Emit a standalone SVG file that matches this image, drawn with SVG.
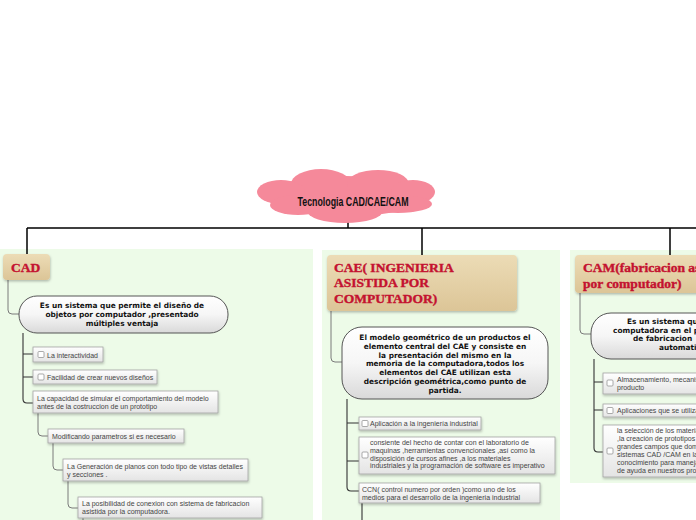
<svg xmlns="http://www.w3.org/2000/svg" width="696" height="520" viewBox="0 0 696 520">
<defs>
<linearGradient id="gHead" x1="0" y1="0" x2="0" y2="1"><stop offset="0" stop-color="#ecdcb6"/><stop offset="1" stop-color="#dcc597"/></linearGradient>
<linearGradient id="gBub" x1="0" y1="0" x2="0" y2="1"><stop offset="0" stop-color="#ffffff"/><stop offset="0.5" stop-color="#f6f6f6"/><stop offset="1" stop-color="#d9d9d9"/></linearGradient>
<linearGradient id="gItem" x1="0" y1="0" x2="0" y2="1"><stop offset="0" stop-color="#ffffff"/><stop offset="1" stop-color="#e4e4e4"/></linearGradient>
<filter id="sh" x="-10%" y="-20%" width="130%" height="150%"><feDropShadow dx="0.5" dy="1.5" stdDeviation="1" flood-color="#000" flood-opacity="0.25"/></filter>
</defs>
<style>
.panel{fill:#edfbe8}
.head{fill:url(#gHead);filter:url(#sh)}
.htxt{font-family:"Liberation Serif",serif;font-weight:bold;font-size:13.5px;fill:#c41230;stroke:#c41230;stroke-width:0.4}
.bub{fill:url(#gBub);stroke:#555;stroke-width:1}
.btxt{font-family:"DejaVu Sans",sans-serif;font-weight:bold;font-size:7.4px;fill:#111;text-anchor:middle}
.btxs{font-family:"DejaVu Sans",sans-serif;font-weight:bold;font-size:7.4px;fill:#111}
.item{fill:url(#gItem);stroke:#a3a3a3;stroke-width:0.8;filter:url(#sh)}
.itxt{font-family:"Liberation Sans",sans-serif;font-size:7px;fill:#444}
.cb{fill:#fff;stroke:#888;stroke-width:0.7}
.main{fill:none;stroke:#000;stroke-width:1.5}
.dark{fill:none;stroke:#333;stroke-width:1.1}
.gray{fill:none;stroke:#7a7a7a;stroke-width:1}
</style>
<rect width="696" height="520" fill="#fff"/>
<rect class="panel" x="0" y="249" width="313" height="271"/>
<rect class="panel" x="322" y="250" width="238" height="270"/>
<rect class="panel" x="570" y="250" width="126" height="233"/>

<g id="connectors">
<path class="main" d="M348,222 V228 M27,228 H696 M27,228 V254 M422,228 V255 M670,228 V255"/>
<path class="gray" d="M8,280 V310 Q8,314 12,314 H19"/>
<path class="dark" d="M23,333 V399 Q23,403 27,403 H33 M23,354 H33 M23,377 H33"/>
<path class="gray" d="M38,413 V432 Q38,436 42,436 H48 M53,443 V466 Q53,470 57,470 H63 M68,481 V504 Q68,508 72,508 H78 M83,518 V520"/>
<path class="gray" d="M331,311 V358 Q331,362 335,362 H342"/>
<path class="dark" d="M347,399 V487 Q347,491 351,491 H359 M347,423 H359 M347,461 H359 M362,503 V520"/>
<path class="gray" d="M580,293 V330 Q580,334 584,334 H591"/>
<path class="dark" d="M594,359 V448 Q594,452 598,452 H603 M594,382 H603 M594,410 H603"/>
</g>

<g id="root">
<g fill="#f5899a">
<ellipse cx="346" cy="196" rx="80" ry="20"/>
<ellipse cx="321" cy="184" rx="30" ry="15"/>
<ellipse cx="378" cy="184" rx="31" ry="14"/>
<ellipse cx="281" cy="192" rx="24" ry="12"/>
<ellipse cx="413" cy="192" rx="22" ry="12"/>
<ellipse cx="298" cy="205" rx="28" ry="10"/>
<ellipse cx="345" cy="211" rx="38" ry="12"/>
<ellipse cx="398" cy="204" rx="34" ry="9"/>
</g>
<text x="353" y="205.5" font-family="Liberation Sans, sans-serif" font-weight="bold" font-size="12.5" fill="#111" text-anchor="middle" textLength="111" lengthAdjust="spacingAndGlyphs">Tecnologia CAD/CAE/CAM</text>
</g>

<g id="cad">
<rect class="head" x="3" y="254" width="47" height="26" rx="4"/>
<text class="htxt" x="11" y="272">CAD</text>
</g>
<g id="cad-def">
<rect class="bub" x="19" y="296" width="209" height="37" rx="18"/>
<text class="btxt" x="122" y="308">Es un sistema  que permite  el diseño de</text>
<text class="btxt" x="122" y="317">objetos por computador ,presentado</text>
<text class="btxt" x="122" y="326">múltiples ventaja</text>
</g>
<g id="cad-1">
<rect class="item" x="33" y="347" width="70" height="15"/>
<rect class="cb" x="38" y="351.5" width="6" height="6" rx="1"/>
<text class="itxt" x="47" y="357.5">La interactividad</text>
</g>
<g id="cad-2">
<rect class="item" x="33" y="370" width="124" height="14"/>
<rect class="cb" x="38" y="374" width="6" height="6" rx="1"/>
<text class="itxt" x="47" y="379.5">Facilidad de crear nuevos diseños</text>
</g>
<g id="cad-3">
<rect class="item" x="33" y="391" width="185" height="22"/>
<text class="itxt" x="37" y="400.5">La capacidad de simular  el comportamiento del modelo</text>
<text class="itxt" x="37" y="409">antes de la costruccion de un prototipo</text>
</g>
<g id="cad-4">
<rect class="item" x="48" y="429" width="136" height="14"/>
<text class="itxt" x="52" y="438.5">Modificando parametros  si es necesario</text>
</g>
<g id="cad-5">
<rect class="item" x="63" y="459" width="185" height="22"/>
<text class="itxt" x="67" y="469">La Generación de planos con todo tipo de vistas detalles</text>
<text class="itxt" x="67" y="477.3">y secciones .</text>
</g>
<g id="cad-6">
<rect class="item" x="78" y="497" width="184" height="21"/>
<text class="itxt" x="82" y="505.6">La posibilidad de conexion con sistema  de fabricacion</text>
<text class="itxt" x="82" y="514">asistida  por la computadora.</text>
</g>

<g id="cae">
<rect class="head" x="327" y="255" width="190" height="56" rx="4"/>
<text class="htxt" x="334" y="271.5">CAE( INGENIERIA</text>
<text class="htxt" x="334" y="287.3">ASISTIDA POR</text>
<text class="htxt" x="334" y="302.5">COMPUTADOR)</text>
</g>
<g id="cae-def">
<rect class="bub" x="342" y="327" width="206" height="72" rx="20"/>
<text class="btxt" x="445" y="340">El modelo geométrico de un productos el</text>
<text class="btxt" x="445" y="348.8">elemento central del CAE  y consiste en</text>
<text class="btxt" x="445" y="357.6">la presentación  del mismo en la</text>
<text class="btxt" x="445" y="366.4">memoria de la computadora,todos los</text>
<text class="btxt" x="445" y="375.2">elementos del CAE utilizan esta</text>
<text class="btxt" x="445" y="384">descripción geométrica,como punto de</text>
<text class="btxt" x="445" y="392.8">partida.</text>
</g>
<g id="cae-1">
<rect class="item" x="359" y="417" width="122" height="13"/>
<rect class="cb" x="362" y="420.5" width="6" height="6" rx="1"/>
<text class="itxt" x="370" y="425.8">Aplicación a la ingeniería industrial</text>
</g>
<g id="cae-2">
<rect class="item" x="359" y="437" width="196" height="37"/>
<rect class="cb" x="362" y="452" width="6" height="6" rx="1"/>
<text class="itxt" x="370" y="445.3">consiente del hecho de contar con el laboratorio de</text>
<text class="itxt" x="370" y="453">maquinas ,herramientas convencionales ,así como la</text>
<text class="itxt" x="370" y="460.6">disposición   de cursos afines ,a los materiales</text>
<text class="itxt" x="370" y="468.3">industriales y la programación de software es imperativo</text>
</g>
<g id="cae-3">
<rect class="item" x="359" y="483" width="181" height="20"/>
<text class="itxt" x="362" y="492.3">CCN( control numero por orden )como uno de los</text>
<text class="itxt" x="362" y="500">medios para el desarrollo de la ingenieria industrial</text>
</g>

<g id="cam">
<rect class="head" x="575" y="255" width="150" height="38" rx="4"/>
<text class="htxt" x="583" y="271.5">CAM(fabricacion asistida</text>
<text class="htxt" x="583" y="287.5">por computador)</text>
</g>
<g id="cam-def">
<rect class="bub" x="591" y="313" width="140" height="46" rx="20"/>
<text class="btxs" x="627" y="324">Es un sistema que utiliza la</text>
<text class="btxs" x="613" y="332.5">computadora  en el proceso</text>
<text class="btxs" x="633" y="341">de fabricacion</text>
<text class="btxs" x="659" y="349.5">automatizada</text>
</g>
<g id="cam-1">
<rect class="item" x="603" y="373" width="110" height="21"/>
<rect class="cb" x="607" y="380" width="6" height="6" rx="1"/>
<text class="itxt" x="617" y="381.5">Almacenamiento, mecanismo</text>
<text class="itxt" x="617" y="390">producto</text>
</g>
<g id="cam-2">
<rect class="item" x="603" y="404" width="110" height="13"/>
<rect class="cb" x="607" y="407.5" width="6" height="6" rx="1"/>
<text class="itxt" x="617" y="412.8">Aplicaciones que se utilizan</text>
</g>
<g id="cam-3">
<rect class="item" x="603" y="425" width="110" height="52"/>
<rect class="cb" x="607" y="448" width="6" height="6" rx="1"/>
<text class="itxt" x="617" y="433.3">la selección de los materiales</text>
<text class="itxt" x="617" y="441.2">,la creación  de prototipos</text>
<text class="itxt" x="617" y="449.1">grandes campos que dominan</text>
<text class="itxt" x="617" y="457">sistemas CAD /CAM  en la</text>
<text class="itxt" x="617" y="464.9">conocimiento para manejar</text>
<text class="itxt" x="617" y="472.8">de ayuda en nuestros procesos</text>
</g>
</svg>
